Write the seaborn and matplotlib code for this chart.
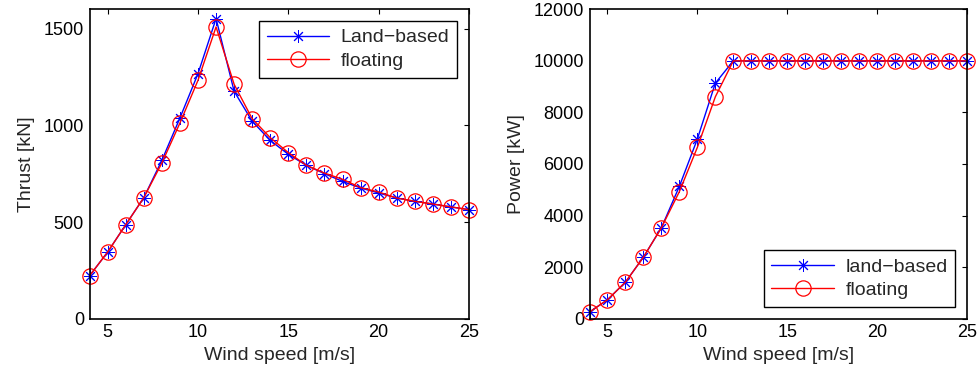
import matplotlib
matplotlib.use("Agg")
import matplotlib.pyplot as plt
import seaborn as sns
import numpy as np

# wind speeds [m/s]
wind_speed = [4, 5, 6, 7, 8, 9, 10, 11, 12, 13, 14, 15, 16, 17, 18, 19, 20, 21, 22, 23, 24, 25]

# thrust [kN]
thrust_land = [222, 345, 486, 626, 819, 1038, 1267, 1552, 1176, 1021, 922, 850,
               793, 750, 710, 676, 650, 624, 607, 593, 578, 564]
thrust_floating = [222, 345, 486, 626, 805, 1012, 1233, 1509, 1212, 1034, 936, 859,
                   793, 753, 721, 678, 655, 624, 607, 593, 578, 564]

# power [kW]
power_land = [258, 735, 1419, 2387, 3529, 5135, 6968, 9135, 10000, 10000, 10000, 10000,
              10000, 10000, 10000, 10000, 10000, 10000, 10000, 10000, 10000, 10000]
power_floating = [258, 735, 1419, 2387, 3529, 4929, 6645, 8606, 10000, 10000, 10000, 10000,
                  10000, 10000, 10000, 10000, 10000, 10000, 10000, 10000, 10000, 10000]

sns.set_style("white")
plt.rcParams["font.family"] = ["Liberation Sans", "DejaVu Sans"]
plt.rcParams["font.size"] = 14

fig = plt.figure(figsize=(9.8, 3.76), dpi=100)
W, H = 980, 376
ax1 = fig.add_axes([89.6 / W, (H - 318.7) / H, (469 - 89.6) / W, (318.7 - 9.3) / H])
ax2 = fig.add_axes([589.5 / W, (H - 318.7) / H, (967 - 589.5) / W, (318.7 - 9.3) / H])

asterisk = (8, 2, 0)


def draw(ax, y_land, y_float, land_label, ylabel, ylim, yticks, legend_loc):
    sns.lineplot(x=wind_speed, y=y_land, ax=ax, color="blue", lw=1,
                 marker=asterisk, markersize=9, markeredgewidth=0.7,
                 markeredgecolor="blue", label=land_label, clip_on=False)
    sns.lineplot(x=wind_speed, y=y_float, ax=ax, color="red", lw=1,
                 marker="o", markersize=11, markerfacecolor="none",
                 markeredgewidth=0.9, markeredgecolor="red", label="floating",
                 clip_on=False)
    ax.set_xlim(4, 25)
    ax.set_ylim(*ylim)
    ax.set_xticks([5, 10, 15, 20, 25])
    ax.set_yticks(yticks)
    ax.set_xlabel("Wind speed [m/s]", fontsize=14, labelpad=4)
    ax.set_ylabel(ylabel, fontsize=14, labelpad=6)
    ax.tick_params(direction="in", top=True, right=True, length=3.5, width=0.8,
                   labelsize=13, colors="black", pad=4)
    for sp in ax.spines.values():
        sp.set_color("black")
        sp.set_linewidth(1.2)
    leg = ax.legend(loc=legend_loc, fontsize=14, handlelength=3.2, fancybox=False,
                    edgecolor="black", framealpha=1, borderaxespad=0.6,
                    labelspacing=0.3, handletextpad=0.6)
    leg.get_frame().set_linewidth(1)


draw(ax1, thrust_land, thrust_floating, "Land\u2212based", "Thrust [kN]",
     (0, 1600), [0, 500, 1000, 1500], "upper right")
draw(ax2, power_land, power_floating, "land\u2212based", "Power [kW]",
     (0, 12000), [0, 2000, 4000, 6000, 8000, 10000, 12000], "lower right")

fig.savefig("out.png", dpi=100)
